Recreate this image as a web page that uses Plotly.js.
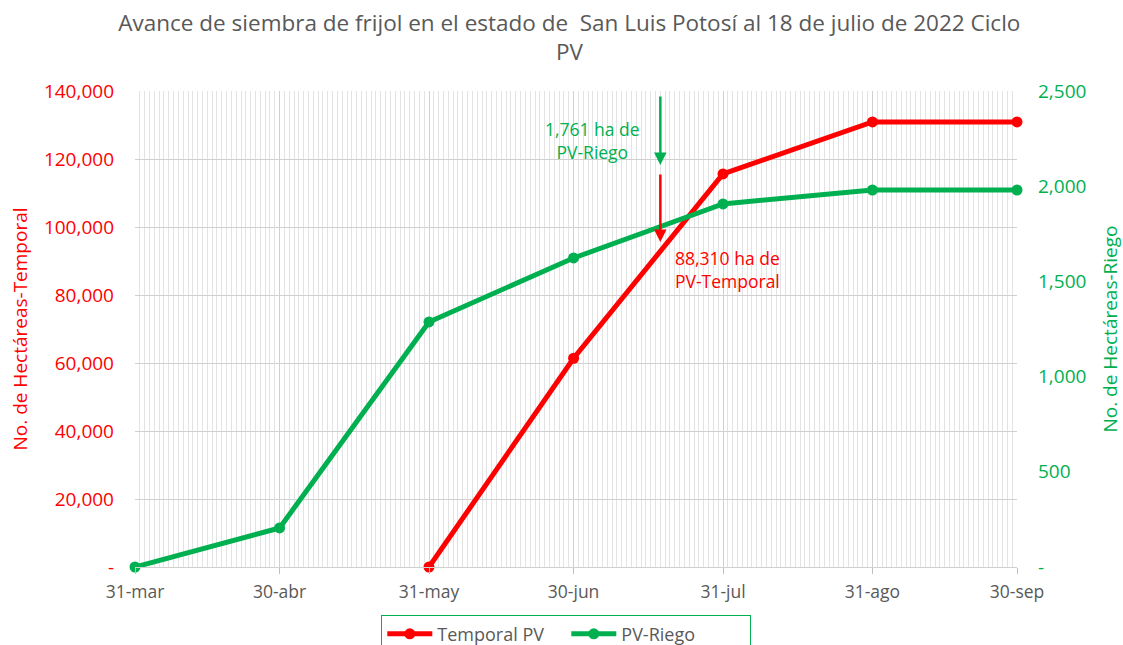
<!DOCTYPE html>
<html>
<head>
<meta charset="utf-8">
<script src="https://cdn.plot.ly/plotly-3.0.1.min.js"></script>
<style>html,body{margin:0;padding:0;background:#fff}#chart{width:1123px;height:645px}</style>
</head>
<body>
<div id="chart"></div>
<script>
const fechas = ["2022-03-31","2022-04-30","2022-05-31","2022-06-30","2022-07-31","2022-08-31","2022-09-30"];
const etiquetasX = ["31-mar","30-abr","31-may","30-jun","31-jul","31-ago","30-sep"];
const temporalPV = [null, null, 0, 61400, 115600, 130900, 130900];
const pvRiego = [0, 205, 1287, 1623, 1907, 1980, 1980];
const ticksIzq = [0,20000,40000,60000,80000,100000,120000,140000];
const etiqIzq = ["-","20,000","40,000","60,000","80,000","100,000","120,000","140,000"];
const ticksDer = [0,500,1000,1500,2000,2500];
const etiqDer = ["-","500","1,000","1,500","2,000","2,500"];
const fechaCorte = "2022-07-18";

const ROJO = "#FF0000", VERDE = "#00B050", GRIS = "#595959";
const FONT = "Open Sans, Lato, sans-serif";

const traces = [
  {x: fechas, y: temporalPV, name: "Temporal PV", type: "scatter", mode: "lines+markers",
   line: {color: ROJO, width: 5}, marker: {color: ROJO, size: 11}, yaxis: "y", cliponaxis: false},
  {x: fechas, y: pvRiego, name: "PV-Riego", type: "scatter", mode: "lines+markers",
   line: {color: VERDE, width: 5}, marker: {color: VERDE, size: 11}, yaxis: "y2", cliponaxis: false}
];

const layout = {
  width: 1123, height: 645,
  margin: {l: 135, r: 106, t: 91, b: 78, autoexpand: false},
  paper_bgcolor: "#fff", plot_bgcolor: "#fff",
  font: {family: FONT, color: GRIS},
  title: {text: "Avance de siembra de frijol en el estado de  San Luis Potosí al 18 de julio de 2022 Ciclo<br>PV",
          font: {size: 22.5, color: GRIS, family: FONT}, x: 0.507, xanchor: "center",
          yref: "container", y: 0.952, yanchor: "top"},
  showlegend: true,
  legend: {orientation: "h", x: 0.489, xanchor: "center", y: -0.1, yanchor: "top",
           bordercolor: VERDE, borderwidth: 1, font: {size: 18, color: GRIS, family: FONT},
           entrywidth: 124, itemwidth: 45},
  xaxis: {type: "date", range: [fechas[0], fechas[fechas.length-1]],
          tickvals: fechas, ticktext: etiquetasX,
          tickfont: {size: 17.5, color: GRIS}, ticks: "outside", ticklen: 6, tickcolor: "#bfbfbf",
          ticklabelstandoff: 3,
          showgrid: true, gridcolor: "#d0d0d0", gridwidth: 1,
          minor: {dtick: 86400000, showgrid: true, gridcolor: "#e3e3e3", gridwidth: 1, ticks: ""},
          showline: true, linecolor: "#d0d0d0", zeroline: false, fixedrange: true},
  yaxis: {range: [0, 140000], tickvals: ticksIzq, ticktext: etiqIzq,
          tickfont: {size: 19, color: ROJO}, ticklabelstandoff: 20,
          showgrid: true, gridcolor: "#d0d0d0", zeroline: false, showline: false,
          title: {text: "No. de Hectáreas-Temporal", font: {size: 19, color: ROJO}, standoff: 11}},
  yaxis2: {range: [0, 2500], overlaying: "y", side: "right", tickvals: ticksDer, ticktext: etiqDer,
           tickfont: {size: 19, color: VERDE}, ticklabelstandoff: 20,
           showgrid: false, zeroline: false, showline: false,
           title: {text: "No. de Hectáreas-Riego", font: {size: 19, color: VERDE}, standoff: 24}},
  annotations: [
    {x: fechaCorte, y: 118200, xref: "x", yref: "y", ax: fechaCorte, ay: 138800, axref: "x", ayref: "y",
     showarrow: true, arrowhead: 2, arrowsize: 1, arrowwidth: 2.5, arrowcolor: VERDE, text: ""},
    {x: fechaCorte, y: 95600, xref: "x", yref: "y", ax: fechaCorte, ay: 115900, axref: "x", ayref: "y",
     showarrow: true, arrowhead: 2, arrowsize: 1, arrowwidth: 2.5, arrowcolor: ROJO, text: ""},
    {x: "2022-07-04", y: 125500, xref: "x", yref: "y", showarrow: false,
     text: "1,761 ha de<br>PV-Riego", font: {size: 17.5, color: VERDE, family: FONT}, align: "center"},
    {x: "2022-08-01", y: 87400, xref: "x", yref: "y", showarrow: false,
     text: "88,310 ha de<br>PV-Temporal", font: {size: 17.5, color: ROJO, family: FONT}, align: "center"}
  ]
};

Plotly.newPlot("chart", traces, layout, {displayModeBar: false, staticPlot: true});
</script>
</body>
</html>
